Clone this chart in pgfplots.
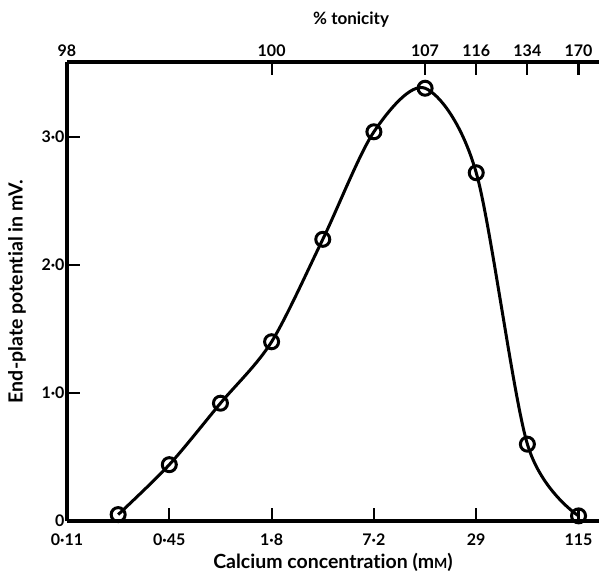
\documentclass[border=0pt]{standalone}
\usepackage{fontspec}
\setmainfont{Lato}[Ligatures=NoCommon]
\usepackage{pgfplots}
\pgfplotsset{compat=1.18}
\begin{document}
\begin{tikzpicture}[x=1pt,y=1pt]
\useasboundingbox (-67,-54) rectangle (532,521);
\begin{axis}[
  at={(0,0)}, anchor=south west,
  width=532pt, height=459pt, scale only axis,
  xmode=log, xmin=0.1125, xmax=152, ymin=0, ymax=3.585,
  axis x line=bottom, axis y line=left,
  axis line style={-, line width=3.5pt},
  xtick={0.1125,0.45,1.8,7.2,28.8,115.2},
  xticklabels={0·11,0·45,1·8,7·2,29,115},
  minor xtick={}, minor ytick={},
  ytick={0,1,2,3}, yticklabels={0,1·0,2·0,3·0},
  major tick length=13pt, tick align=inside,
  every tick/.style={black, line width=2.2pt},
  tick label style={font=\bfseries\fontsize{16}{18}\selectfont},
  xticklabel style={yshift=-9pt},
  yticklabel style={xshift=1pt},
  xlabel={Calcium concentration (m{\fontsize{14}{15}\selectfont M})},
  ylabel={End-plate potential in mV.},
  label style={font=\bfseries\fontsize{19.5}{21}\selectfont},
  xlabel style={at={(axis description cs:0.5,0)}, anchor=center, yshift=-41pt},
  ylabel style={at={(axis description cs:0,0.5)}, anchor=center, yshift=50pt},
  clip=false,
]
\addplot[black, line width=3pt, smooth, tension=0.5,
  mark=o, mark size=7pt, mark options={fill=white, line width=3pt}]
  coordinates {
  (0.225,0.05) (0.45,0.44) (0.9,0.92) (1.8,1.40) (3.6,2.20)
  (7.2,3.04) (14.4,3.38) (28.8,2.72) (57.6,0.60) (115.2,0.04)
  };
\end{axis}
\begin{axis}[
  at={(0,0)}, anchor=south west,
  width=532pt, height=459pt, scale only axis,
  xmode=log, xmin=0.1125, xmax=152, ymin=0, ymax=3.585,
  axis x line=top, axis y line=none,
  axis line style={-, line width=3.5pt},
  xtick={0.1125,1.8,14.4,28.8,57.6,115.2},
  xticklabels={98,100,107,116,134,170},
  minor xtick={},
  major tick length=13pt, tick align=inside,
  every tick/.style={black, line width=2.2pt},
  tick label style={font=\bfseries\fontsize{16}{18}\selectfont},
  xticklabel style={yshift=2pt},
  clip=false,
]
\node[font=\bfseries\fontsize{17}{19}\selectfont, anchor=center] at (rel axis cs:0.534,1) [yshift=42pt] {\% tonicity};
\end{axis}
\end{tikzpicture}
\end{document}
